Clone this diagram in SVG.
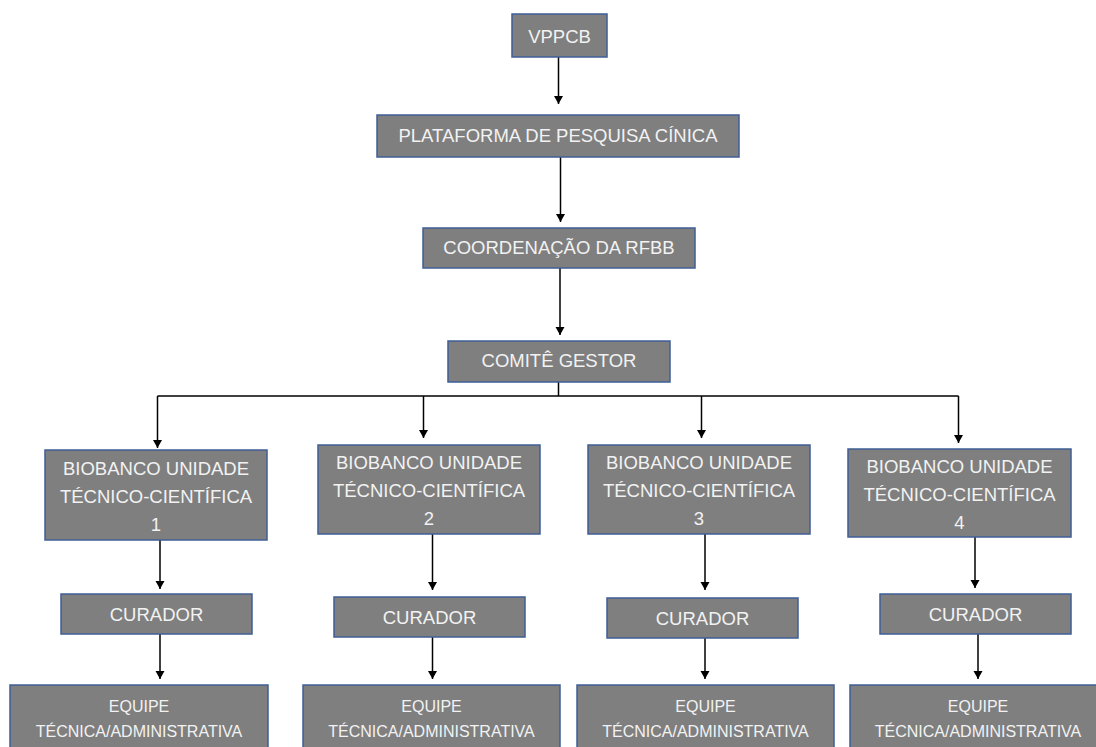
<svg xmlns="http://www.w3.org/2000/svg" width="1096" height="747" viewBox="0 0 1096 747">
<defs>
<marker id="ah" markerUnits="userSpaceOnUse" markerWidth="9" markerHeight="10" refX="8" refY="4.5" orient="auto">
<path d="M0,0 L8,4.5 L0,9 z" fill="#000"/>
</marker>
<style>
.box{fill:#7f7f7f;stroke:#3f5f95;stroke-width:1.5}
.t{font-family:"Liberation Sans",Arial,sans-serif;font-size:18.5px;fill:#f2f2f2;text-anchor:middle}
.s{font-family:"Liberation Sans",Arial,sans-serif;font-size:16px;fill:#f2f2f2;text-anchor:middle}
.c{stroke:#000;stroke-width:1.5;fill:none}
.a{marker-end:url(#ah)}
</style>
</defs>
<rect width="1096" height="747" fill="#fff"/>
<g id="connectors">
<line class="c a" x1="558.5" y1="57" x2="558.5" y2="104"/>
<line class="c a" x1="560.5" y1="157" x2="560.5" y2="222"/>
<line class="c a" x1="560" y1="268" x2="560" y2="335"/>
<polyline class="c" points="558.5,382 558.5,396"/>
<polyline class="c" points="157.5,396 958.5,396"/>
<line class="c a" x1="157.5" y1="396" x2="157.5" y2="448"/>
<line class="c a" x1="423.5" y1="396" x2="423.5" y2="438"/>
<line class="c a" x1="701.5" y1="396" x2="701.5" y2="438"/>
<line class="c a" x1="958.5" y1="396" x2="958.5" y2="443"/>
<line class="c a" x1="160" y1="540" x2="160" y2="589"/>
<line class="c a" x1="432.5" y1="534" x2="432.5" y2="590"/>
<line class="c a" x1="705" y1="534" x2="705" y2="590"/>
<line class="c a" x1="975" y1="537" x2="975" y2="588"/>
<line class="c a" x1="160" y1="634" x2="160" y2="679"/>
<line class="c a" x1="432.5" y1="637" x2="432.5" y2="679"/>
<line class="c a" x1="705" y1="638" x2="705" y2="679"/>
<line class="c a" x1="978" y1="634" x2="978" y2="679"/>
</g>
<g id="vppcb"><rect class="box" x="512" y="14" width="95" height="43"/><text class="t" x="559.5" y="42.5">VPPCB</text></g>
<g id="plataforma"><rect class="box" x="377" y="115" width="362" height="42"/><text class="t" x="558" y="142">PLATAFORMA DE PESQUISA CÍNICA</text></g>
<g id="coordenacao"><rect class="box" x="423" y="228" width="272" height="40"/><text class="t" x="559" y="254">COORDENAÇÃO DA RFBB</text></g>
<g id="comite"><rect class="box" x="448" y="341" width="222" height="41"/><text class="t" x="559" y="367">COMITÊ GESTOR</text></g>
<g id="biobanco1"><rect class="box" x="45" y="450" width="222" height="90"/>
<text class="t" x="156" y="475">BIOBANCO UNIDADE</text><text class="t" x="156" y="503">TÉCNICO-CIENTÍFICA</text><text class="t" x="156" y="531">1</text></g>
<g id="biobanco2"><rect class="box" x="318" y="445" width="222" height="89"/>
<text class="t" x="429" y="469">BIOBANCO UNIDADE</text><text class="t" x="429" y="497">TÉCNICO-CIENTÍFICA</text><text class="t" x="429" y="525">2</text></g>
<g id="biobanco3"><rect class="box" x="588" y="445" width="222" height="89"/>
<text class="t" x="699" y="469">BIOBANCO UNIDADE</text><text class="t" x="699" y="497">TÉCNICO-CIENTÍFICA</text><text class="t" x="699" y="525">3</text></g>
<g id="biobanco4"><rect class="box" x="848" y="449" width="223" height="88"/>
<text class="t" x="959.5" y="473">BIOBANCO UNIDADE</text><text class="t" x="959.5" y="501">TÉCNICO-CIENTÍFICA</text><text class="t" x="959.5" y="529">4</text></g>
<g id="curador1"><rect class="box" x="61" y="594" width="191" height="40"/><text class="t" x="156.5" y="621">CURADOR</text></g>
<g id="curador2"><rect class="box" x="334" y="597" width="191" height="40"/><text class="t" x="429.5" y="624">CURADOR</text></g>
<g id="curador3"><rect class="box" x="607" y="598" width="191" height="40"/><text class="t" x="702.5" y="625">CURADOR</text></g>
<g id="curador4"><rect class="box" x="880" y="594" width="191" height="40"/><text class="t" x="975.5" y="621">CURADOR</text></g>
<g id="equipe1"><rect class="box" x="10" y="685" width="258" height="80"/>
<text class="s" x="139" y="712">EQUIPE</text><text class="s" x="139" y="737">TÉCNICA/ADMINISTRATIVA</text></g>
<g id="equipe2"><rect class="box" x="303" y="685" width="257" height="80"/>
<text class="s" x="431.5" y="712">EQUIPE</text><text class="s" x="431.5" y="737">TÉCNICA/ADMINISTRATIVA</text></g>
<g id="equipe3"><rect class="box" x="577" y="685" width="257" height="80"/>
<text class="s" x="705.5" y="712">EQUIPE</text><text class="s" x="705.5" y="737">TÉCNICA/ADMINISTRATIVA</text></g>
<g id="equipe4"><rect class="box" x="850" y="685" width="257" height="80"/>
<text class="s" x="978" y="712">EQUIPE</text><text class="s" x="978" y="737">TÉCNICA/ADMINISTRATIVA</text></g>
</svg>
